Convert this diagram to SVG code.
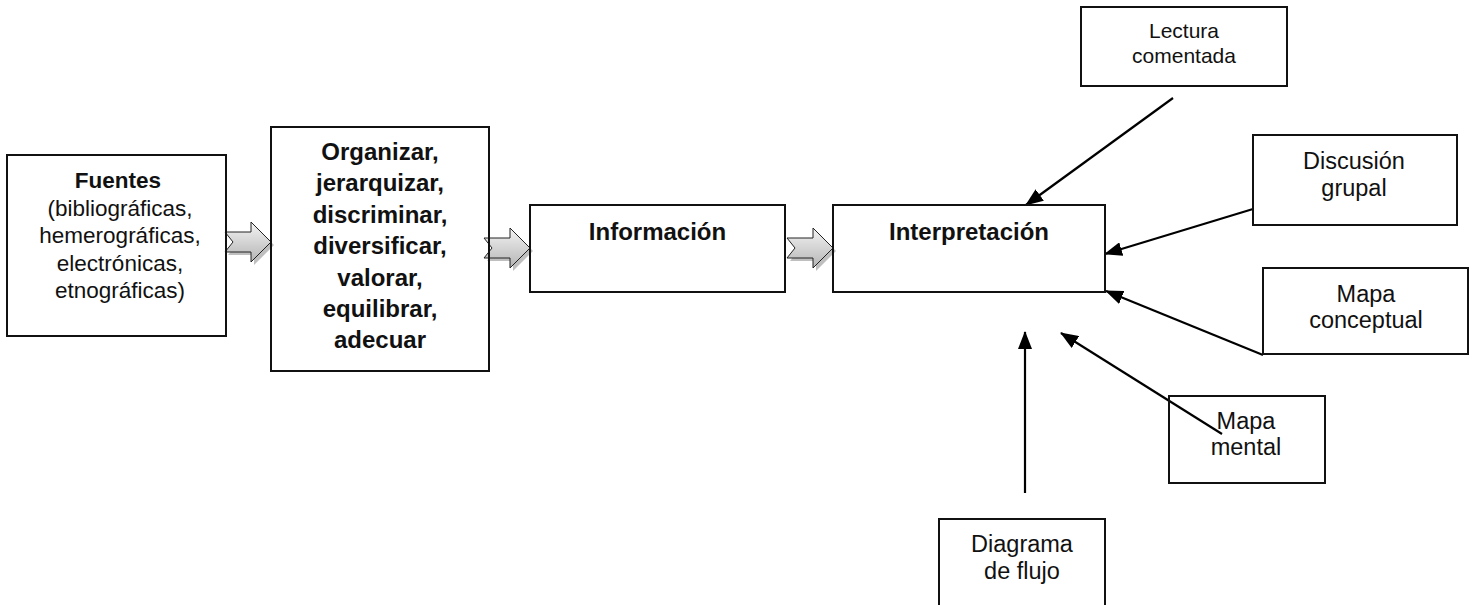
<svg xmlns="http://www.w3.org/2000/svg" width="1475" height="605" viewBox="0 0 1475 605">
<defs>
<style>
.box{fill:none;stroke:#111;stroke-width:2}
.t{font-family:"Liberation Sans",Arial,sans-serif;fill:#111;text-anchor:middle}
.b{font-weight:bold}
.con{stroke:#000;stroke-width:2.2;fill:none;marker-end:url(#ah)}
.blk{fill:url(#bg);stroke:#222;stroke-width:1}
.shd{fill:#8a8a8a;opacity:0.55}
</style>
<linearGradient id="bg" x1="0" y1="0" x2="0" y2="1">
<stop offset="0" stop-color="#f4f4f4"/>
<stop offset="1" stop-color="#b4b4b4"/>
</linearGradient>
<marker id="ah" viewBox="0 0 18 14" refX="17" refY="7" markerWidth="18" markerHeight="14" markerUnits="userSpaceOnUse" orient="auto">
<path d="M0,0 L18,7 L0,14 z" fill="#000"/>
</marker>
<path id="blockArrow" d="M0,-10 L26,-10 L26,-20 L46,0 L26,20 L26,10 L0,10 L8,0 Z"/>
</defs>
<rect x="0" y="0" width="1475" height="605" fill="#fff"/>

<g id="connectors">
<g transform="translate(225,242)"><use href="#blockArrow" class="shd" x="3" y="3"/><use href="#blockArrow" class="blk"/></g>
<g transform="translate(484,248)"><use href="#blockArrow" class="shd" x="3" y="3"/><use href="#blockArrow" class="blk"/></g>
<g transform="translate(787,248)"><use href="#blockArrow" class="shd" x="3" y="3"/><use href="#blockArrow" class="blk"/></g>
<line class="con" x1="1173" y1="98" x2="1026" y2="205"/>
<line class="con" x1="1253" y1="209" x2="1105" y2="254"/>
<line class="con" x1="1263" y1="355" x2="1106" y2="291"/>
<line class="con" x1="1222" y1="434" x2="1061" y2="333"/>
<line class="con" x1="1025" y1="493" x2="1025" y2="332"/>
</g>

<g id="fuentes">
<rect class="box" x="7" y="155" width="219" height="181"/>
<text class="t" font-size="22.5"><tspan class="b" x="118" y="188">Fuentes</tspan><tspan x="120" y="215.5">(bibliográficas,</tspan><tspan x="120" y="243">hemerográficas,</tspan><tspan x="120" y="270.5">electrónicas,</tspan><tspan x="120" y="298">etnográficas)</tspan></text>
</g>

<g id="organizar">
<rect class="box" x="271" y="127" width="218" height="244"/>
<text class="t b" font-size="24"><tspan x="380" y="160">Organizar,</tspan><tspan x="380" y="191.4">jerarquizar,</tspan><tspan x="380" y="222.8">discriminar,</tspan><tspan x="380" y="254.2">diversificar,</tspan><tspan x="380" y="285.6">valorar,</tspan><tspan x="380" y="317">equilibrar,</tspan><tspan x="380" y="348.4">adecuar</tspan></text>
</g>

<g id="informacion">
<rect class="box" x="530" y="205" width="255" height="87"/>
<text class="t b" font-size="24" x="657.5" y="240">Información</text>
</g>

<g id="interpretacion">
<rect class="box" x="833" y="205" width="272" height="87"/>
<text class="t b" font-size="24" x="969" y="240">Interpretación</text>
</g>

<g id="lectura">
<rect class="box" x="1081" y="7" width="206" height="79"/>
<text class="t" font-size="21"><tspan x="1184" y="38">Lectura</tspan><tspan x="1184" y="63">comentada</tspan></text>
</g>

<g id="discusion">
<rect class="box" x="1253" y="135" width="204" height="90"/>
<text class="t" font-size="23.5"><tspan x="1354" y="169">Discusión</tspan><tspan x="1354" y="196">grupal</tspan></text>
</g>

<g id="mapaConceptual">
<rect class="box" x="1263" y="268" width="205" height="86"/>
<text class="t" font-size="23.5"><tspan x="1366" y="302">Mapa</tspan><tspan x="1366" y="328">conceptual</tspan></text>
</g>

<g id="mapaMental">
<rect class="box" x="1169" y="396" width="156" height="87"/>
<text class="t" font-size="23.5"><tspan x="1246" y="429">Mapa</tspan><tspan x="1246" y="455">mental</tspan></text>
</g>

<g id="diagrama">
<rect class="box" x="939" y="519" width="166" height="100"/>
<text class="t" font-size="23.5"><tspan x="1022" y="552">Diagrama</tspan><tspan x="1022" y="579">de flujo</tspan></text>
</g>
</svg>
